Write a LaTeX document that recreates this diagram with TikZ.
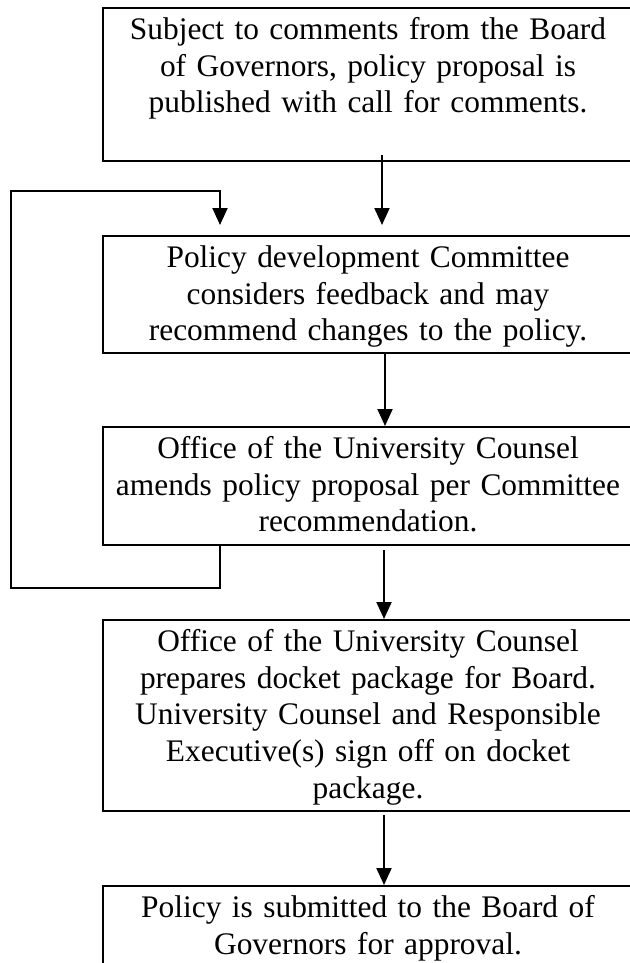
\documentclass[tikz,border=0pt]{standalone}
\usepackage{fontspec}
\setmainfont{Liberation Serif}
\usetikzlibrary{arrows.meta}
\begin{document}
\begin{tikzpicture}[x=1pt,y=-1pt,
  stepbox/.style={draw, line width=1pt, minimum width=266pt, anchor=north west, inner sep=0pt},
  steptext/.style={anchor=north, align=center, text width=262pt, inner sep=0pt, font=\fontsize{15.7}{18.4}\selectfont},
  arr/.style={line width=1pt, -{Triangle[width=7.5pt,length=8.5pt]}}]
\useasboundingbox (0,0) rectangle (315,481.5);
\clip (0,0) rectangle (315,481.5);
% boxes
\node[stepbox, minimum height=76.5pt] (b1) at (51,3.5) {};
\node[stepbox, minimum height=58.5pt] (b2) at (51,117.5) {};
\node[stepbox, minimum height=59pt] (b3) at (51,213) {};
\node[stepbox, minimum height=95.5pt] (b4) at (51,309.5) {};
\node[stepbox, minimum height=62.5pt] (b5) at (51,442.5) {};
% texts
\node[steptext] (t1) at (184,6.6) {\strut Subject to comments from the Board\\of Governors, policy proposal is\\published with call for comments.};
\node[steptext] (t2) at (184,120.6) {\strut Policy development Committee\\considers feedback and may\\recommend changes to the policy.};
\node[steptext] (t3) at (184,216.1) {\strut Office of the University Counsel\\amends policy proposal per Committee\\recommendation.};
\node[steptext] (t4) at (184,312.6) {\strut Office of the University Counsel\\prepares docket package for Board.\\University Counsel and Responsible\\Executive(s) sign off on docket\\package.};
\node[steptext] (t5) at (184,445.6) {\strut Policy is submitted to the Board of\\Governors for approval.};
% arrows
\draw[arr] ([xshift=6.5pt,yshift=3.5pt]b1.south) -- ([xshift=6.5pt,yshift=5pt]b2.north);
\draw[arr] ([xshift=8pt]b2.south) -- ([xshift=8pt]b3.north);
\draw[arr] ([xshift=7.5pt,yshift=-2pt]b3.south) -- ([xshift=7.5pt]b4.north);
\draw[arr] ([xshift=7.5pt,yshift=-1.5pt]b4.south) -- ([xshift=7.5pt]b5.north);
% feedback loop
\coordinate (lp1) at (110,294);
\coordinate (lp2) at (5.5,294);
\coordinate (lp3) at (5.5,95.5);
\coordinate (lp4) at (110,95.5);
\coordinate (lp5) at (110,112.5);
\draw[arr] (b3.south -| lp1) -- (lp1) -- (lp2) -- (lp3) -- (lp4) -- (lp5);
\end{tikzpicture}
\end{document}
